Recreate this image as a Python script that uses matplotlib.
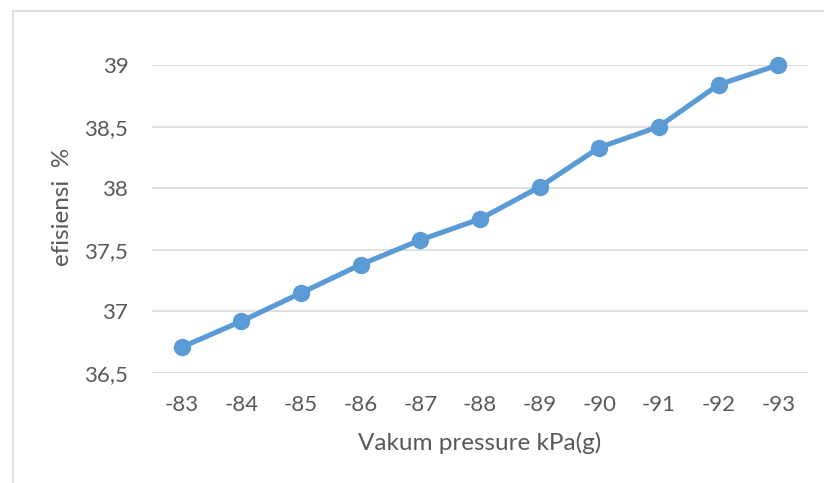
import matplotlib
matplotlib.use("Agg")
import matplotlib.pyplot as plt
from matplotlib.patches import Rectangle

plt.rcParams['font.family'] = ['Lato', 'DejaVu Sans']

pressure = ["-83", "-84", "-85", "-86", "-87", "-88", "-89", "-90", "-91", "-92", "-93"]
efisiensi = [36.71, 36.92, 37.15, 37.38, 37.58, 37.75, 38.01, 38.33, 38.50, 38.84, 39.00]
y_ticks = [36.5, 37.0, 37.5, 38.0, 38.5, 39.0]
y_labels = ["36,5", "37", "37,5", "38", "38,5", "39"]

grey = "#595959"

fig = plt.figure(figsize=(8.24, 4.83), dpi=100)
ax = fig.add_axes([152 / 824, 1 - 373 / 483, 656 / 824, 308 / 483])

# chart border (cropped on right and bottom)
fig.patches.append(Rectangle((13 / 824, -0.1), 1.2, 1.1 - 11 / 483,
                             transform=fig.transFigure, fill=False,
                             edgecolor="#D9D9D9", linewidth=1.2))

x = list(range(len(pressure)))
ax.plot(x, efisiensi, color="#5B9BD5", linewidth=3.7, marker="o",
        markersize=11.5, clip_on=False, zorder=3)

ax.set_xlim(-0.5, len(pressure) - 0.5)
ax.set_ylim(36.5, 39.0)
ax.set_xticks(x)
ax.set_xticklabels(pressure)
ax.set_yticks(y_ticks)
ax.set_yticklabels(y_labels)
ax.tick_params(axis="both", length=0, labelsize=16, labelcolor=grey)
ax.tick_params(axis="x", pad=15.5)
ax.tick_params(axis="y", pad=17)

ax.grid(axis="y", color="#D9D9D9", linewidth=1.2)
ax.set_axisbelow(True)
for s in ax.spines.values():
    s.set_visible(False)

fig.text(480 / 824, 1 - 443 / 483, "Vakum pressure kPa(g)", ha="center",
         va="center", fontsize=17.5, color=grey)
fig.text(63 / 824, 1 - 207 / 483, "efisiensi  %", ha="center", va="center",
         rotation=90, fontsize=17.5, color=grey)

fig.savefig("out.png", dpi=100)
